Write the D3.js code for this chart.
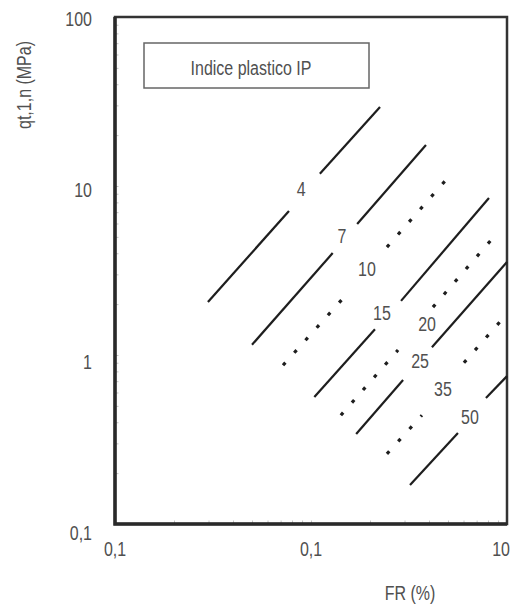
<!DOCTYPE html>
<html>
<head>
<meta charset="utf-8">
<script src="https://cdn.jsdelivr.net/npm/d3@7"></script>
<style>
    body { margin: 0; background: #fff; }
    svg text {
        font-family: "Liberation Sans", Arial, sans-serif;
        font-size: 19.5px;
        fill: #505050;
    }
</style>
</head>
<body>
<svg id="chart" width="511" height="605"></svg>
<script>
// ===== DATA =====
const ipValues   = [4, 7, 10, 15, 20, 25, 35, 50];
const lineStyles = ['solid', 'solid', 'dotted', 'solid', 'dotted', 'solid', 'dotted', 'solid'];

// each IP line is two pieces [FR, qt] with a gap where the label sits
const lineSegments = [
    [[[0.298, 2.06], [0.772, 7.11]], [[1.11, 11.8], [2.25, 29.3]]],
    [[[0.50, 1.15],  [1.29, 4.01]],  [[1.72, 5.96], [3.86, 17.5]]],
    [[[0.72, 0.87],  [1.46, 2.17]],  [[2.44, 4.35], [5.30, 12.1]]],
    [[[1.04, 0.564], [2.12, 1.42]],  [[2.88, 2.09], [8.09, 8.49]]],
    [[[1.42, 0.44],  [2.78, 1.07]],  [[4.19, 1.92], [9.0, 5.34]]],
    [[[1.70, 0.341], [2.95, 0.711]], [[4.14, 1.11], [10, 3.55]]],
    [[[2.44, 0.26],  [3.68, 0.44]],  [[6.03, 0.90], [9.2, 1.57]]],
    [[[3.20, 0.170], [5.62, 0.345]], [[7.81, 0.557], [10, 0.75]]],
];

const labelPoints = [
    [0.89, 9.6], [1.44, 5.06], [1.93, 3.23], [2.30, 1.77],
    [3.91, 1.53], [3.60, 0.92], [4.71, 0.63], [6.47, 0.43],
];

const xTicks      = [0.1, 1, 10];
const xTickLabels = ['0,1', '0,1', '10'];
const yTicks      = [0.1, 1, 10, 100];
const yTickLabels = ['0,1', '1', '10', '100'];

const legendTitle = 'Indice plastico IP';
const xTitle      = 'FR (%)';
const yTitle      = 'qt,1,n (MPa)';

// ===== SCALES =====
const svg = d3.select('#chart');
const plotL = 115, plotR = 507, plotT = 17, plotB = 524;

const x = d3.scaleLog().domain([0.1, 10]).range([plotL, plotR]);
const y = d3.scaleLog().domain([0.1, 100]).range([plotB, plotT]);
// tick labels sit slightly apart from the gridline spacing in the original
const yLabel = d3.scaleLog().domain([0.1, 100]).range([540, 26]);

// original uses a narrow face; squeeze the regular one horizontally
function addText(px, py, str, anchor = 'middle', rotated = false) {
    return svg.append('text')
        .attr('transform', `translate(${px},${py})${rotated ? ' rotate(-90)' : ''} scale(0.82,1)`)
        .attr('text-anchor', anchor)
        .text(str);
}

// ===== MINOR TICKS (inside frame) =====
const minorX = d3.range(-1, 1).flatMap(e => d3.range(1, 10).map(m => m * Math.pow(10, e))).slice(1);
const minorY = d3.range(-1, 2).flatMap(e => d3.range(1, 10).map(m => m * Math.pow(10, e))).slice(1);

svg.append('g')
    .attr('transform', `translate(0,${plotB})`)
    .call(d3.axisBottom(x).tickValues(minorX).tickSize(-3.5).tickFormat(''))
    .call(g => g.select('.domain').remove())
    .call(g => g.selectAll('line').attr('stroke', '#c4c4c4'));

svg.append('g')
    .attr('transform', `translate(${plotL},0)`)
    .call(d3.axisLeft(y).tickValues(minorY).tickSize(-3.5).tickFormat(''))
    .call(g => g.select('.domain').remove())
    .call(g => g.selectAll('line').attr('stroke', '#c4c4c4'));

// ===== FRAME =====
svg.append('rect')
    .attr('x', plotL).attr('y', plotT)
    .attr('width', plotR - plotL).attr('height', plotB - plotT)
    .attr('fill', 'none')
    .attr('stroke', '#333')
    .attr('stroke-width', 2.5);

svg.append('path')
    .attr('d', `M${plotL},${plotT}V${plotB}H${plotR}`)
    .attr('fill', 'none')
    .attr('stroke', '#2a2a2a')
    .attr('stroke-width', 3.5);

// ===== TICK LABELS =====
yTicks.forEach((v, i) => addText(92, yLabel(v), yTickLabels[i], 'end'));

xTicks.forEach((v, i) => {
    const last = i === xTicks.length - 1;
    addText(last ? x(v) + 3 : x(v), 556, xTickLabels[i], last ? 'end' : 'middle');
});

// ===== AXIS TITLES =====
addText(410, 600, xTitle);
addText(31, 85, yTitle, 'middle', true);

// ===== LEGEND BOX =====
svg.append('rect')
    .attr('x', 144).attr('y', 43)
    .attr('width', 225).attr('height', 45)
    .attr('fill', '#fff')
    .attr('stroke', '#666')
    .attr('stroke-width', 1.5);

addText(251, 75, legendTitle);

// ===== IP LINES =====
const line = d3.line().x(d => x(d[0])).y(d => y(d[1]));

ipValues.forEach((ip, i) => {
    const dotted = lineStyles[i] === 'dotted';
    lineSegments[i].forEach(seg => {
        svg.append('path')
            .attr('d', line(seg))
            .attr('fill', 'none')
            .attr('stroke', '#1e1e1e')
            .attr('stroke-width', dotted ? 3.2 : 2.2)
            .attr('stroke-dasharray', dotted ? '3.5 13.3' : null);
    });
});

ipValues.forEach((ip, i) => {
    addText(x(labelPoints[i][0]), y(labelPoints[i][1]), ip).attr('dy', '0.36em');
});
</script>
</body>
</html>
